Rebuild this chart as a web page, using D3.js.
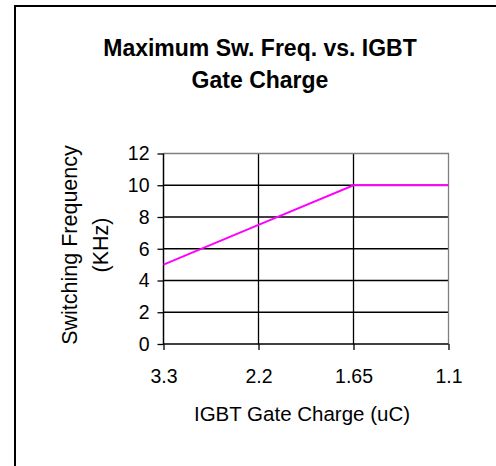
<!DOCTYPE html>
<html>
<head>
<meta charset="utf-8">
<script src="https://cdn.jsdelivr.net/npm/d3@7"></script>
<style>
  body { margin: 0; background: #fff; }
  svg { display: block; font-family: "Liberation Sans", Arial, sans-serif; }
</style>
</head>
<body>
<div id="content"></div>
<script>
// chart data
var categories = ['3.3', '2.2', '1.65', '1.1'];
var freqValues = [5, 7.5, 10, 10];
var yTicks = [0, 2, 4, 6, 8, 10, 12];
var titleLines = ['Maximum Sw. Freq. vs. IGBT', 'Gate Charge'];
var yTitleLines = ['Switching Frequency', '(KHz)'];
var xTitle = 'IGBT Gate Charge (uC)';

var width = 496, height = 466;
var plot = { left: 163.5, right: 448.5, top: 153.5, bottom: 344 };

var svg = d3.select('#content').append('svg')
  .attr('width', width)
  .attr('height', height);

// outer chart frame (runs off the bottom/right of the picture)
svg.append('rect')
  .attr('x', 15).attr('y', 6)
  .attr('width', 520).attr('height', 520)
  .attr('fill', 'none')
  .attr('stroke', '#000')
  .attr('stroke-width', 2);

var x = d3.scalePoint().domain(categories).range([plot.left, plot.right]);
var y = d3.scaleLinear().domain([0, 12]).range([plot.bottom, plot.top]);

// horizontal gridlines
svg.append('g').selectAll('line')
  .data(yTicks.filter(d => d > 0 && d < 12))
  .enter().append('line')
  .attr('x1', plot.left).attr('x2', plot.right)
  .attr('y1', d => y(d)).attr('y2', d => y(d))
  .attr('stroke', '#000').attr('stroke-width', 1.3);

// vertical gridlines at inner categories
svg.append('g').selectAll('line')
  .data(categories.slice(1, -1))
  .enter().append('line')
  .attr('x1', d => x(d)).attr('x2', d => x(d))
  .attr('y1', plot.top).attr('y2', plot.bottom)
  .attr('stroke', '#000').attr('stroke-width', 1.3);

// plot area border top/right in gray
svg.append('path')
  .attr('d', `M${plot.left},${plot.top}H${plot.right}V${plot.bottom}`)
  .attr('fill', 'none')
  .attr('stroke', '#808080').attr('stroke-width', 1.3);

// y axis
var yAxis = d3.axisLeft(y).tickValues(yTicks).tickSize(6).tickPadding(8);
var gy = svg.append('g')
  .attr('transform', `translate(${plot.left},0)`)
  .call(yAxis);
gy.select('.domain').remove();
gy.append('line')
  .attr('x1', 0).attr('x2', 0)
  .attr('y1', plot.top).attr('y2', plot.bottom)
  .attr('stroke', '#000').attr('stroke-width', 1.5);
gy.selectAll('.tick line').attr('stroke', '#000').attr('stroke-width', 1.3);
gy.selectAll('.tick text')
  .attr('fill', '#000')
  .style('font-size', '19.5px')
  .style('font-family', '"Liberation Sans", Arial, sans-serif');

// x axis
var xAxis = d3.axisBottom(x).tickSize(6).tickPadding(19);
var gx = svg.append('g')
  .attr('transform', `translate(0,${plot.bottom})`)
  .call(xAxis);
gx.select('.domain').remove();
gx.append('line')
  .attr('x1', plot.left).attr('x2', plot.right)
  .attr('y1', 0).attr('y2', 0)
  .attr('stroke', '#000').attr('stroke-width', 1.5);
gx.selectAll('.tick line').attr('stroke', '#000').attr('stroke-width', 1.3);
gx.selectAll('.tick text')
  .attr('fill', '#000')
  .style('font-size', '19.5px')
  .style('font-family', '"Liberation Sans", Arial, sans-serif');

// series line
var line = d3.line()
  .x((d, i) => x(categories[i]))
  .y(d => y(d));

svg.append('path')
  .datum(freqValues)
  .attr('d', line)
  .attr('fill', 'none')
  .attr('stroke', '#ff00ff')
  .attr('stroke-width', 2);

// chart title
svg.append('g').selectAll('text')
  .data(titleLines)
  .enter().append('text')
  .attr('x', 260)
  .attr('y', (d, i) => 56 + i * 31.5)
  .attr('text-anchor', 'middle')
  .style('font-size', '23px')
  .style('font-weight', 'bold')
  .text(d => d);

// y axis title
svg.append('g').selectAll('text')
  .data(yTitleLines)
  .enter().append('text')
  .attr('transform', (d, i) => `translate(${77 + i * 31},245) rotate(-90)`)
  .attr('text-anchor', 'middle')
  .style('font-size', '21.5px')
  .text(d => d);

// x axis title
svg.append('text')
  .attr('x', 302)
  .attr('y', 421)
  .attr('text-anchor', 'middle')
  .style('font-size', '20.5px')
  .text(xTitle);
</script>
</body>
</html>
